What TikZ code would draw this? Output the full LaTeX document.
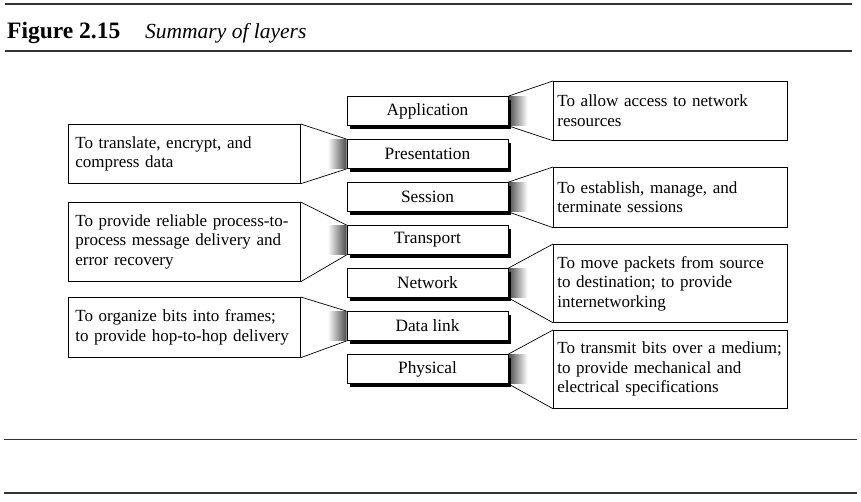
\documentclass[tikz,border=0pt]{standalone}
\usepackage{fontspec}
\setmainfont{Liberation Serif}
\usetikzlibrary{shadows,backgrounds}
\begin{document}
\begin{tikzpicture}[x=1pt,y=-1pt,
  rule/.style={draw=black!80, line width=1.3pt},
  layer/.style={draw=black, line width=0.8pt, fill=white, minimum width=161pt, minimum height=29pt,
    inner sep=0pt, font=\fontsize{17.3}{19}\selectfont,
    drop shadow={shadow xshift=3pt, shadow yshift=-3pt, fill=black, opacity=1}},
  desc/.style={draw=black, line width=0.7pt, fill=white, anchor=north west, inner ysep=0pt,
    align=left, font=\fontsize{17}{19.5}\selectfont},
  ldesc/.style={desc, inner xsep=7pt, minimum width=232pt, text width=218pt},
  rdesc/.style={desc, inner xsep=4pt, minimum width=234pt, text width=226pt},
  funnel/.style={draw=black, line width=0.7pt},
]
\useasboundingbox (0,0) rectangle (861,501);

% rules
\coordinate (r1a) at (5,4);   \coordinate (r1b) at (852,4);
\coordinate (r2a) at (5,51);  \coordinate (r2b) at (852,51);
\coordinate (r3a) at (4,439); \coordinate (r3b) at (857,439);
\coordinate (r4a) at (4,493); \coordinate (r4b) at (857,493);
\draw[rule] (r1a) -- (r1b);
\draw[rule] (r2a) -- (r2b);
\draw[rule, line width=1pt] (r3a) -- (r3b);
\draw[rule] (r4a) -- (r4b);

% title
\node[anchor=base west, inner sep=0pt, font=\fontsize{23.5}{26}\selectfont\bfseries] (fig) at (7,38) {Figure 2.15};
\node[anchor=base west, inner sep=0pt, font=\fontsize{21.5}{24}\selectfont\itshape] (cap) at (145,38) {Summary of layers};

% layers
\node[layer] (app)  at (427.5,111) {Application};
\node[layer] (pres) at (427.5,154) {Presentation};
\node[layer] (sess) at (427.5,197) {Session};
\node[layer] (trans) at (427.5,240) {Transport};
\node[layer] (net)  at (427.5,283) {Network};
\node[layer] (dl)   at (427.5,326) {Data link};
\node[layer] (phys) at (427.5,369) {Physical};

% descriptions
\node[rdesc, minimum height=59pt] (appd) at (553,81) {To allow access to network\\resources};
\node[ldesc, minimum height=59pt] (presd) at (68,124) {To translate, encrypt, and\\compress data};
\node[rdesc, minimum height=60pt] (sessd) at (553,167) {To establish, manage, and\\terminate sessions};
\node[ldesc, minimum height=79pt] (transd) at (68,202) {To provide reliable process-to-\\process message delivery and\\error recovery};
\node[rdesc, minimum height=78pt] (netd) at (553,244) {To move packets from source\\to destination; to provide\\internetworking};
\node[ldesc, minimum height=60pt] (dld) at (68,297) {To organize bits into frames;\\to provide hop-to-hop delivery};
\node[rdesc, minimum height=78pt] (physd) at (553,330) {To transmit bits over a medium;\\to provide mechanical and\\electrical specifications};

% funnels
\begin{scope}[on background layer]
  \foreach \L/\D in {app/appd, sess/sessd, net/netd, phys/physd} {
    \begin{scope}
      \clip (\L.north east) -- (\D.north west) -- (\D.south west) -- (\L.south east) -- cycle;
      \shade[left color=black!75, right color=white] ([xshift=-1pt]\L.north east) rectangle ([xshift=19pt]\L.south east);
    \end{scope}
    \draw[funnel] (\L.north east) -- (\D.north west);
    \draw[funnel] (\L.south east) -- (\D.south west);
  }
  \foreach \L/\D in {pres/presd, trans/transd, dl/dld} {
    \begin{scope}
      \clip (\D.north east) -- (\L.north west) -- (\L.south west) -- (\D.south east) -- cycle;
      \shade[left color=white, right color=black!75] ([xshift=-19pt]\L.north west) rectangle ([xshift=1pt]\L.south west);
    \end{scope}
    \draw[funnel] (\D.north east) -- (\L.north west);
    \draw[funnel] (\D.south east) -- (\L.south west);
  }
\end{scope}
\end{tikzpicture}
\end{document}
